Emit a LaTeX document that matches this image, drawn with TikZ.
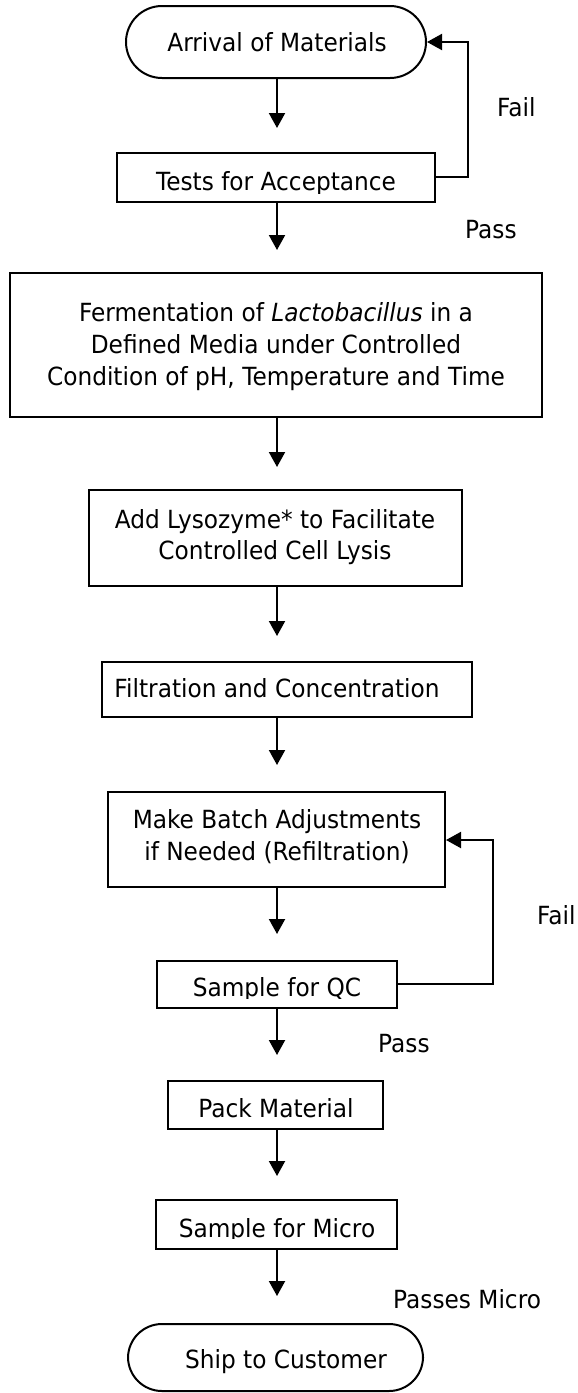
\documentclass[tikz,border=0pt]{standalone}
\usepackage{fontspec}
\setmainfont[FakeStretch=0.93]{DejaVu Sans}
\usetikzlibrary{arrows.meta}
\tikzset{
  lbl/.style={font=\fontsize{25pt}{32pt}\selectfont, inner sep=0pt, anchor=base},
  side/.style={font=\fontsize{25pt}{32pt}\selectfont, inner sep=0pt, anchor=base west},
  box/.style={draw, line width=2pt, inner sep=0pt},
  term/.style={draw, line width=2pt, inner sep=0pt, rounded corners=#1},
  flow/.style={line width=2pt, -{Triangle[width=16pt,length=15pt]}},
  back/.style={line width=2pt, -{Triangle[width=16pt,length=15pt]}}
}
\begin{document}
\begin{tikzpicture}[x=1pt,y=-1pt]
\useasboundingbox (0,0) rectangle (578,1393);

% Arrival
\node[term=36pt, minimum width=300pt, minimum height=72pt] (arr) at (276,42) {};
\node[lbl] (arrT) at (277,51) {Arrival of Materials};

% Tests
\begin{scope}
\clip (117,153) rectangle (435,193);
\node[lbl] (testT) at (276,190) {Tests for Acceptance};
\end{scope}
\node[box, minimum width=318pt, minimum height=49pt] (test) at (276,177.5) {};

% Fermentation
\node[box, minimum width=532pt, minimum height=144pt] (ferm) at (276,345) {};
\node[lbl] (fermA) at (276,321) {Fermentation of \textit{Lactobacillus} in a};
\node[lbl] (fermB) at (276,353) {Defined Media under Controlled};
\node[lbl] (fermC) at (276,385) {Condition of pH, Temperature and Time};

% Lysozyme
\node[box, minimum width=373pt, minimum height=96pt] (lys) at (275.5,538) {};
\node[lbl] (lysA) at (275,528) {Add Lysozyme* to Facilitate};
\node[lbl] (lysB) at (275,559) {Controlled Cell Lysis};

% Filtration
\node[box, minimum width=370pt, minimum height=55pt] (filt) at (287,689.5) {};
\node[lbl] (filtT) at (277,697) {Filtration and Concentration};

% Batch adjustments
\node[box, minimum width=337pt, minimum height=95pt] (adj) at (276.5,839.5) {};
\node[lbl] (adjA) at (277,828) {Make Batch Adjustments};
\node[lbl] (adjB) at (277,860) {if Needed (Refiltration)};

% Sample for QC
\begin{scope}
\clip (157,961) rectangle (397,998);
\node[lbl] (qcT) at (277,996) {Sample for QC};
\end{scope}
\node[box, minimum width=240pt, minimum height=47pt] (qc) at (277,984.5) {};

% Pack Material
\node[box, minimum width=215pt, minimum height=48pt] (pack) at (275.5,1105) {};
\node[lbl] (packT) at (276,1117) {Pack Material};

% Sample for Micro
\begin{scope}
\clip (156,1200) rectangle (397,1238);
\node[lbl] (micT) at (277,1237) {Sample for Micro};
\end{scope}
\node[box, minimum width=241pt, minimum height=49pt] (mic) at (276.5,1224.5) {};

% Ship
\node[term=34pt, minimum width=295pt, minimum height=67pt] (ship) at (275.5,1357.5) {};
\node[lbl] (shipT) at (286,1368) {Ship to Customer};

% Side labels
\node[side] (fail1) at (497,116) {Fail};
\node[side] (pass1) at (465,238) {Pass};
\node[side] (fail2) at (537,924) {Fail};
\node[side] (pass2) at (378,1052) {Pass};
\node[side] (pass3) at (393,1308) {Passes Micro};

% Flow arrows
\coordinate (a1) at (277,128);
\coordinate (a2) at (277,250);
\coordinate (a3) at (277,467);
\coordinate (a4) at (277,636);
\coordinate (a5) at (277,765);
\coordinate (a6) at (277,934);
\coordinate (a7) at (277,1055);
\coordinate (a8) at (277,1176);
\coordinate (a9) at (277,1296);
\draw[flow] (arr.south -| a1) -- (a1);
\draw[flow] (test.south -| a2) -- (a2);
\draw[flow] (ferm.south -| a3) -- (a3);
\draw[flow] (lys.south -| a4) -- (a4);
\draw[flow] (filt.south -| a5) -- (a5);
\draw[flow] (adj.south -| a6) -- (a6);
\draw[flow] (qc.south -| a7) -- (a7);
\draw[flow] (pack.south -| a8) -- (a8);
\draw[flow] (mic.south -| a9) -- (a9);

% Feedback loops
\coordinate (f1) at (468,177);
\coordinate (f1t) at (468,42);
\draw[back] (test.east |- f1) -- (f1) -- (f1t) -- (arr.east);
\coordinate (f2) at (493,984);
\coordinate (f2t) at (493,840);
\draw[back] (qc.east |- f2) -- (f2) -- (f2t) -- (adj.east |- f2t);
\end{tikzpicture}
\end{document}
